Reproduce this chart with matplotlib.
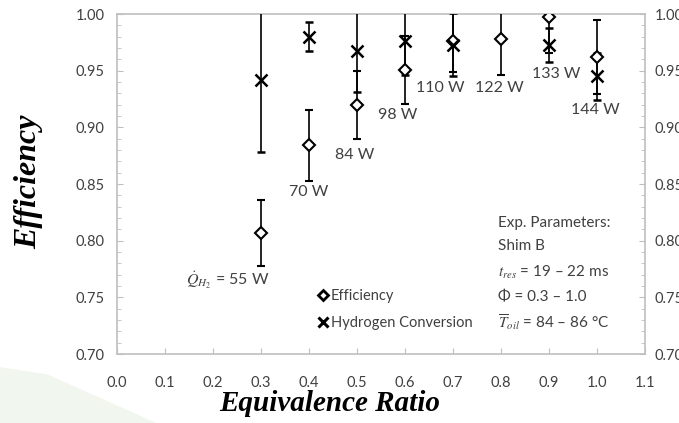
"""Efficiency and hydrogen conversion vs equivalence ratio (Shim B)."""

import matplotlib
matplotlib.use("Agg")
import matplotlib.pyplot as plt
from matplotlib.lines import Line2D
from matplotlib.patches import Polygon

# --- data --------------------------------------------------------------
phi_eff = [0.3, 0.4, 0.5, 0.6, 0.7, 0.8, 0.9, 1.0]
efficiency = [0.807, 0.884, 0.920, 0.951, 0.976, 0.978, 0.997, 0.962]
efficiency_err = [0.029, 0.031, 0.030, 0.030, 0.027, 0.032, 0.031, 0.033]

phi_h2 = [0.3, 0.4, 0.5, 0.6, 0.7, 0.9, 1.0]
h2_conversion = [0.942, 0.980, 0.967, 0.976, 0.973, 0.973, 0.945]
h2_conversion_err = [0.064, 0.013, 0.036, 0.030, 0.028, 0.015, 0.021]

power_labels = [r"$\dot{Q}_{H_2}$ = 55 W", "70 W", "84 W", "98 W",
                "110 W", "122 W", "133 W", "144 W"]
label_x = [0.231, 0.400, 0.496, 0.585, 0.673, 0.796, 0.915, 0.996]
label_y = [0.765, 0.843, 0.876, 0.911, 0.935, 0.935, 0.947, 0.915]

params_lines = ["Exp. Parameters:", "Shim B",
                r"$t_{res}$ = 19 – 22 ms", "Φ = 0.3 – 1.0",
                r"$\overline{T}_{oil}$ = 84 – 86 °C"]
params_x = 0.794
params_y = [0.816, 0.795, 0.772, 0.750, 0.728]

# --- styling ------------------------------------------------------------
SANS = ["Lato", "DejaVu Sans"]
plt.rcParams["font.family"] = SANS
plt.rcParams["mathtext.fontset"] = "stix"
TXT = "#404040"
SPINE = "#bfbfbf"

fig = plt.figure(figsize=(6.79, 4.23), dpi=100)
fig.patch.set_facecolor("white")

# faint slide background swoosh in lower-left
fig.patches.append(Polygon([(0, 0), (0, 0.132), (0.07, 0.115), (0.23, 0.0)],
                           closed=True, transform=fig.transFigure,
                           facecolor="#f1f6ee", edgecolor="none", zorder=0))

ax = fig.add_axes([0.1723, 0.1631, 0.7776, 0.8038])

ax.errorbar(phi_eff, efficiency, yerr=efficiency_err, fmt="D", ms=6,
            mfc="white", mec="black", mew=1.5, ecolor="black",
            elinewidth=1.2, capsize=3, capthick=1.2, zorder=3)
ax.errorbar(phi_h2, h2_conversion, yerr=h2_conversion_err, fmt="x", ms=8,
            mec="black", mew=1.8, ecolor="black",
            elinewidth=1.2, capsize=3, capthick=1.2, zorder=3)

ax.set_xlim(0.0, 1.1)
ax.set_ylim(0.70, 1.00)
ax.set_xticks([i / 10 for i in range(12)])
ax.set_xticklabels([f"{i / 10:.1f}" for i in range(12)])
ax.set_yticks([0.70, 0.75, 0.80, 0.85, 0.90, 0.95, 1.00])
ax.set_yticks([0.70 + i * 0.01 for i in range(31)], minor=True)

for s in ax.spines.values():
    s.set_color(SPINE)
    s.set_linewidth(1.2)

ax.tick_params(axis="y", which="both", direction="in", color=SPINE,
               labelcolor=TXT, labelsize=10.5, pad=9)
ax.tick_params(axis="y", which="major", length=4)
ax.tick_params(axis="y", which="minor", length=3)
ax.tick_params(axis="x", direction="in", length=4, color=SPINE,
               labelcolor=TXT, labelsize=10.5, pad=16)

ax2 = ax.twinx()
ax2.set_ylim(ax.get_ylim())
ax2.set_yticks([0.70, 0.75, 0.80, 0.85, 0.90, 0.95, 1.00])
ax2.set_yticks([0.70 + i * 0.01 for i in range(31)], minor=True)
ax2.tick_params(axis="y", which="both", direction="in", color=SPINE,
                labelcolor=TXT, labelsize=10.5, pad=7)
ax2.tick_params(axis="y", which="major", length=4)
ax2.tick_params(axis="y", which="minor", length=3)
ax2.set_yticklabels([f"{v:.2f}" for v in ax2.get_yticks()])
for s in ax2.spines.values():
    s.set_visible(False)

for txt, x, y in zip(power_labels, label_x, label_y):
    ax.text(x, y, txt, ha="center", va="center", fontsize=11.5,
            color=TXT, zorder=4)

for line, y in zip(params_lines, params_y):
    ax.text(params_x, y, line, ha="left", va="center",
            fontsize=11, color=TXT)

handles = [
    Line2D([], [], ls="none", marker="D", ms=5.5, mfc="white", mec="black",
           mew=2.0),
    Line2D([], [], ls="none", marker="x", ms=6.5, mec="black", mew=2.2),
]
ax.legend(handles, ["Efficiency", "Hydrogen Conversion"],
          loc="center left", bbox_to_anchor=(0.37, 0.13), frameon=False,
          fontsize=10.5, handlelength=0.6, handletextpad=0.25,
          labelspacing=0.9, borderaxespad=0, labelcolor=TXT)

fig.text(0.042, 0.57, "Efficiency", rotation=90, ha="center", va="center",
         fontsize=23, fontfamily="Liberation Serif", fontweight="bold",
         fontstyle="italic", color="black")
fig.text(0.486, 0.028, "Equivalence Ratio", ha="center", va="baseline",
         fontsize=21, fontfamily="Liberation Serif", fontweight="bold",
         fontstyle="italic", color="black")

fig.savefig("out.png", dpi=100)
plt.close(fig)
